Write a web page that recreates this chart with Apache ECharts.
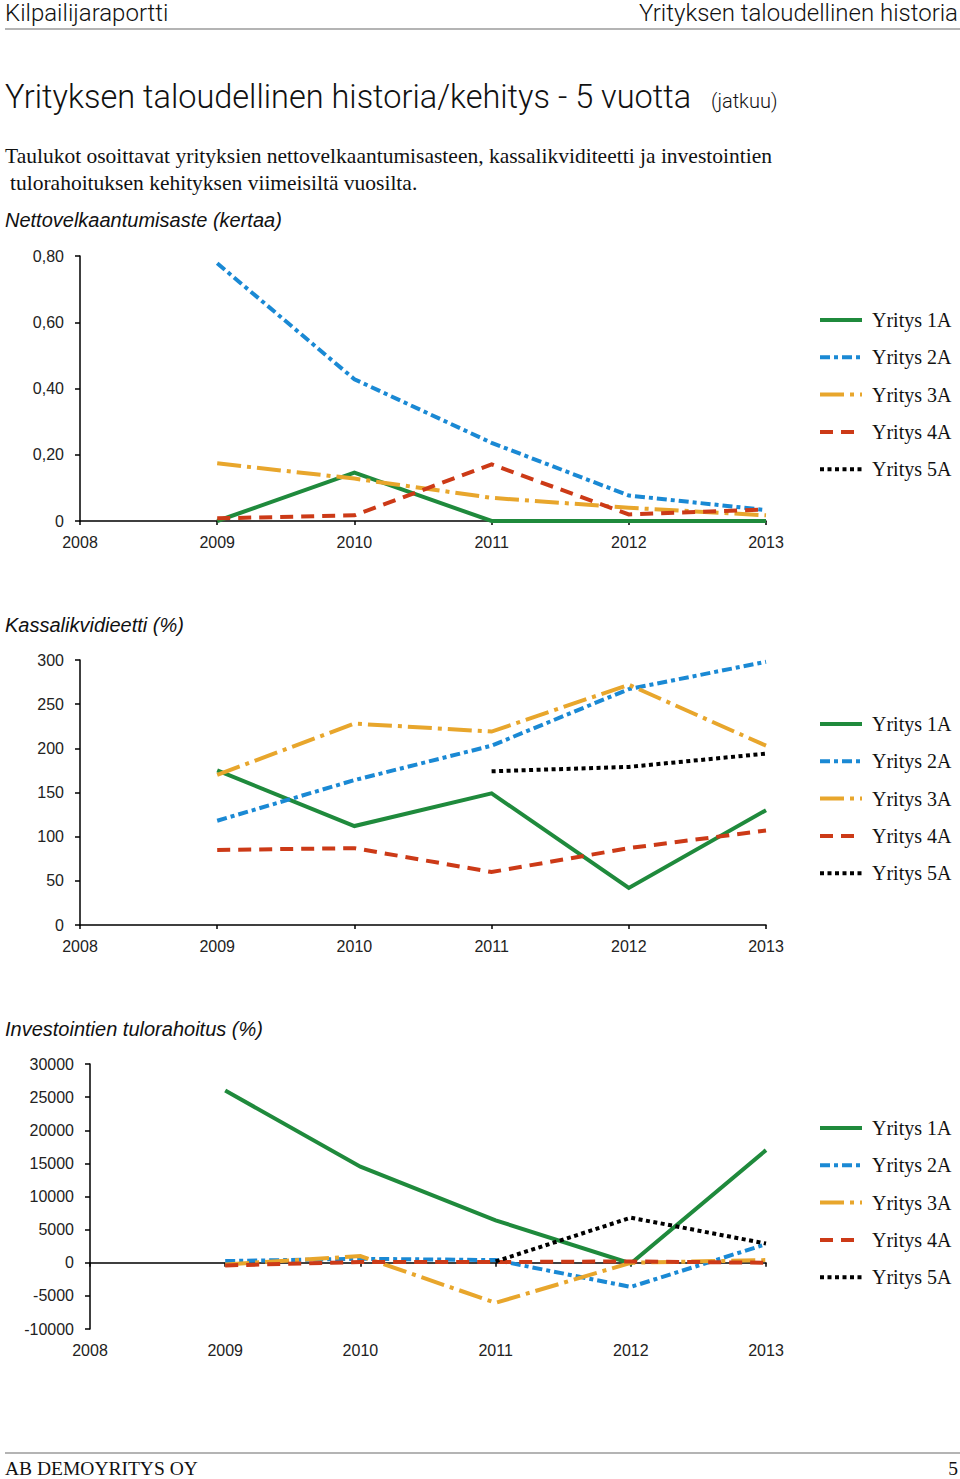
<!DOCTYPE html>
<html>
<head>
<meta charset="utf-8">
<script src="https://cdn.jsdelivr.net/npm/echarts@6/dist/echarts.min.js"></script>
<style>
html,body{margin:0;padding:0;background:#fff;}
#c{width:960px;height:1479px;}
</style>
</head>
<body>
<div id="c"></div>
<script>
// ---- data ----
const years = ['2008', '2009', '2010', '2011', '2012', '2013'];
const companies = ['Yritys 1A', 'Yritys 2A', 'Yritys 3A', 'Yritys 4A', 'Yritys 5A'];

// Nettovelkaantumisaste (kertaa)
const debt1A = [null, 0, 0.146, 0, 0, 0];
const debt2A = [null, 0.778, 0.428, 0.236, 0.077, 0.033];
const debt3A = [null, 0.174, 0.128, 0.070, 0.040, 0.017];
const debt4A = [null, 0.008, 0.017, 0.171, 0.020, 0.035];
const debt5A = [null, null, null, null, null, null];
const debtTicks = { min: 0, max: 0.8, interval: 0.2 };

// Kassalikvidieetti (%)
const cash1A = [null, 175, 112, 149, 42, 130];
const cash2A = [null, 118, 164, 203, 267, 298];
const cash3A = [null, 170, 228, 219, 272, 203];
const cash4A = [null, 85, 87, 60, 87, 107];
const cash5A = [null, null, null, 174, 179, 194];
const cashTicks = { min: 0, max: 300, interval: 50 };

// Investointien tulorahoitus (%)
const inv1A = [null, 26000, 14500, 6400, -100, 17000];
const inv2A = [null, 250, 600, 400, -3650, 2800];
const inv3A = [null, -250, 1000, -6050, 0, 400];
const inv4A = [null, -400, 100, 100, 200, 0];
const inv5A = [null, null, null, 200, 6800, 2900];
const invTicks = { min: -10000, max: 30000, interval: 5000 };

// ---- styles ----
const colors = ['#1f8a3c', '#1a89d4', '#e8a62c', '#cc3a17', '#000000'];
const dashes = ['solid', [10, 4, 4, 4], [24, 6, 4, 6], [13, 8], [4, 3.5]];

const grids = [
  { left: 80, width: 686, top: 256, height: 265 },
  { left: 80, width: 686, top: 660, height: 265 },
  { left: 90, width: 676, top: 1064, height: 265 }
];
const chartData = [
  [debt1A, debt2A, debt3A, debt4A, debt5A],
  [cash1A, cash2A, cash3A, cash4A, cash5A],
  [inv1A, inv2A, inv3A, inv4A, inv5A]
];
const ticks = [debtTicks, cashTicks, invTicks];
const legendTops = [310, 714, 1118];

const axisFont = 'Liberation Sans, Arial, sans-serif';
const serif = '"Liberation Serif", "Times New Roman", serif';
const light = 'Roboto, "Open Sans", sans-serif';

const xAxes = grids.map((g, i) => ({
  type: 'category', gridIndex: i, data: years, boundaryGap: false,
  axisLine: { lineStyle: { color: '#000', width: 1.5 } },
  axisTick: { show: true, length: 4, lineStyle: { color: '#000', width: 1.5 } },
  axisLabel: { color: '#222', fontSize: 16, fontFamily: axisFont, margin: 13 },
  splitLine: { show: false }
}));
const yAxes = grids.map((g, i) => ({
  type: 'value', gridIndex: i, min: ticks[i].min, max: ticks[i].max, interval: ticks[i].interval,
  axisLine: { show: true, lineStyle: { color: '#000', width: 1.5 } },
  axisTick: { show: true, length: 5, lineStyle: { color: '#000', width: 1.5 } },
  axisLabel: {
    color: '#222', fontSize: 16, fontFamily: axisFont, margin: 16,
    formatter: i === 0 ? (v => v === 0 ? '0' : v.toFixed(2).replace('.', ',')) : (v => String(v))
  },
  splitLine: { show: false }
}));

const series = [];
chartData.forEach((set, ci) => {
  set.forEach((vals, si) => {
    series.push({
      type: 'line', name: companies[si], xAxisIndex: ci, yAxisIndex: ci,
      data: vals, symbol: 'none', connectNulls: false, silent: true,
      lineStyle: { color: colors[si], width: 4, type: dashes[si], cap: 'butt', join: 'miter' },
      itemStyle: { color: colors[si] }
    });
  });
});

const legends = legendTops.map(t => ({
  data: companies, orient: 'vertical', left: 818, top: t, padding: 0,
  itemWidth: 42, itemHeight: 20, itemGap: 17.3, selectedMode: false,
  itemStyle: { opacity: 0 },
  lineStyle: { width: 4 },
  textStyle: { color: '#111', fontSize: 20, fontFamily: serif, lineHeight: 20, padding: [0, 0, 0, 5] }
}));

function txt(x, y, text, font, opts) {
  return {
    type: 'text', x: x, y: y, silent: true,
    style: Object.assign({ text: text, font: font, fill: '#111', verticalAlign: 'middle', align: 'left' }, opts || {})
  };
}

const graphics = [
  txt(5, 13, 'Kilpailijaraportti', '300 24px ' + light),
  txt(958, 13, 'Yrityksen taloudellinen historia', '300 24px ' + light, { align: 'right' }),
  { type: 'rect', silent: true, shape: { x: 5, y: 28, width: 955, height: 2 }, style: { fill: '#b4b4b4' } },
  txt(5, 97, 'Yrityksen taloudellinen historia/kehitys - 5 vuotta', '300 32.5px ' + light),
  txt(711, 101, '(jatkuu)', '300 20px ' + light),
  txt(5, 156, 'Taulukot osoittavat yrityksien nettovelkaantumisasteen, kassalikviditeetti ja investointien', '21.5px ' + serif),
  txt(10, 183, 'tulorahoituksen kehityksen viimeisiltä vuosilta.', '21.5px ' + serif),
  txt(5, 220, 'Nettovelkaantumisaste (kertaa)', 'italic 20px ' + axisFont),
  txt(5, 625, 'Kassalikvidieetti (%)', 'italic 20px ' + axisFont),
  txt(5, 1029, 'Investointien tulorahoitus (%)', 'italic 20px ' + axisFont),
  { type: 'rect', silent: true, shape: { x: 5, y: 1452, width: 955, height: 2 }, style: { fill: '#b4b4b4' } },
  txt(5, 1468, 'AB DEMOYRITYS OY', '19.5px ' + serif),
  txt(958, 1468, '5', '19.5px ' + serif, { align: 'right' })
];

const chart = echarts.init(document.getElementById('c'), null, { renderer: 'svg' });
chart.setOption({
  animation: false,
  backgroundColor: '#fff',
  grid: grids,
  xAxis: xAxes,
  yAxis: yAxes,
  legend: legends,
  series: series,
  graphic: graphics
});
</script>
</body>
</html>
